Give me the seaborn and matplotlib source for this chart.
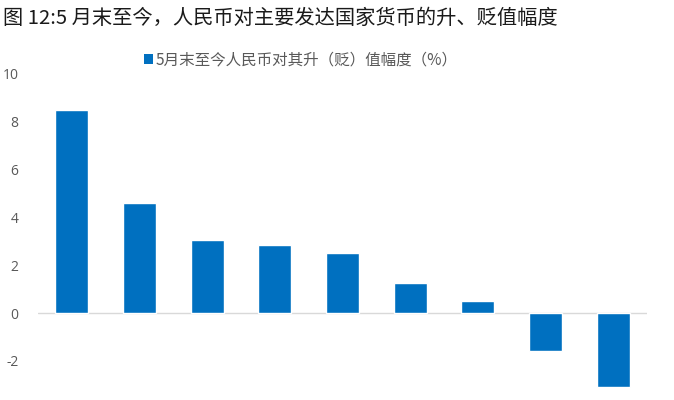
import numpy as np
import pandas as pd
import seaborn as sns
import matplotlib
matplotlib.use("Agg")
import matplotlib.pyplot as plt
from matplotlib.patches import Patch

# values (x labels are cut off in the source image)
categories = ["c1", "c2", "c3", "c4", "c5", "c6", "c7", "c8", "c9"]
values = [8.5, 4.62, 3.07, 2.84, 2.52, 1.28, 0.51, -1.57, -3.1]
yticks = [-2, 0, 2, 4, 6, 8, 10]

title = "图 12:5 月末至今，人民币对主要发达国家货币的升、贬值幅度"
legend_label = "5月末至今人民币对其升（贬）值幅度（%）"

bar_color = "#0070C0"
grey = "#595959"

sns.set_theme(style="white")
plt.rcParams['font.family'] = ['Noto Sans CJK SC', 'DejaVu Sans']

df = pd.DataFrame({"cat": categories, "val": values})

fig = plt.figure(figsize=(6.74, 4.0), dpi=100)
ax = fig.add_axes([38 / 674, 0.0, (647 - 38) / 674, 1 - 74 / 400])

sns.barplot(data=df, x="cat", y="val", color=bar_color, width=0.49,
            saturation=1, ax=ax)

ax.set_ylim(-(400 - 313) / 23.95, 10)
ax.set_xlim(-0.5, len(categories) - 0.5)
ax.set_yticks(yticks)
ax.set_yticklabels([str(t) for t in yticks], color=grey, fontsize=10,
                   family=['Open Sans', 'DejaVu Sans'])
ax.tick_params(axis="y", length=0, pad=14)
ax.set_xticks([])
ax.set_xlabel("")
ax.set_ylabel("")
for s in ax.spines.values():
    s.set_visible(False)
ax.axhline(0, color="#D9D9D9", lw=1, zorder=0)

fig.text(0.004, 1 - 18 / 400, title, fontsize=14.6, color="#1a1a1a",
         va="center", ha="left")

handle = Patch(facecolor=bar_color, edgecolor="none")
fig.legend([handle], [legend_label], loc="center left",
           bbox_to_anchor=(144 / 674, 1 - 60 / 400), frameon=False,
           fontsize=11.2, labelcolor=grey, handlelength=0.55, handleheight=0.6,
           handletextpad=0.2, borderaxespad=0, borderpad=0)

fig.savefig("out.png", dpi=100)
plt.close(fig)
